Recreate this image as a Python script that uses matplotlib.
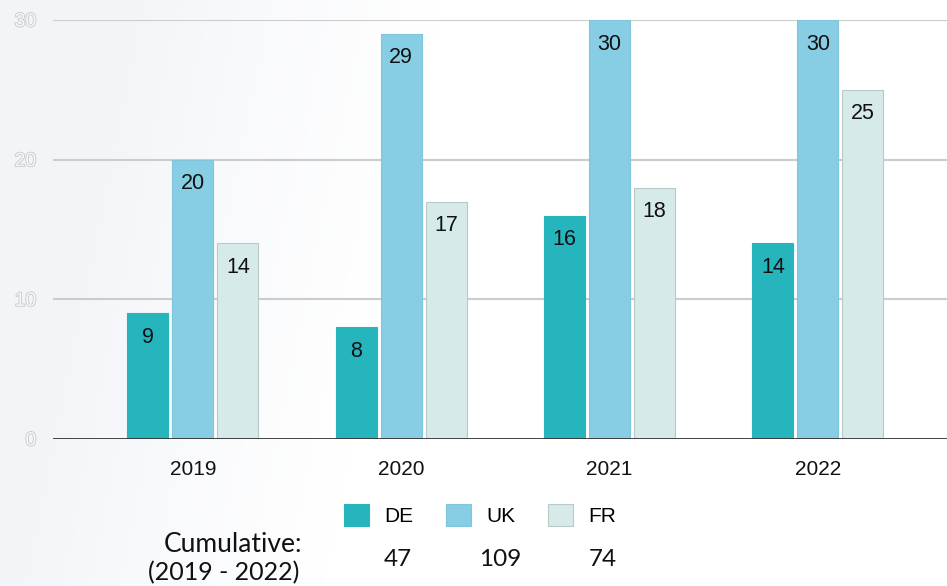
import matplotlib
matplotlib.use("Agg")
import matplotlib.pyplot as plt
import matplotlib.patheffects as pe
import numpy as np

years = ["2019", "2020", "2021", "2022"]
series = ["DE", "UK", "FR"]
de = [9, 8, 16, 14]
uk = [20, 29, 30, 30]
fr = [14, 17, 18, 25]
yticks = [0, 10, 20, 30]

colors = ["#26b5bd", "#87cee4", "#d6ebe9"]
edges = ["#26b5bd", "#7fc6dc", "#b9c9c8"]

W, H = 947, 586
fig = plt.figure(figsize=(W / 100, H / 100), dpi=100)

# soft background gradient at the left
bg = fig.add_axes([0, 0, 1, 1], zorder=-10)
xx = np.linspace(0, 1, 400)
yy = np.linspace(0, 1, 250)
X, Y = np.meshgrid(xx, yy)
g = np.clip((X * W - 20 - (1 - Y) * 120) / 300, 0, 1) ** 0.8
c0 = np.array([0.952, 0.960, 0.976])
img = c0[None, None, :] * (1 - g[..., None]) + np.ones(3)[None, None, :] * g[..., None]
bg.imshow(img, aspect="auto", extent=[0, 1, 0, 1], origin="upper")
bg.axis("off")

ax = fig.add_axes([53 / W, 1 - 439 / H, 1 - 53 / W, (439 - 20) / H])
ax.patch.set_alpha(0)

x = np.arange(len(years))
bw = 0.197
off = 0.216
data = [de, uk, fr]
handles = []
for i, (vals, c, ec) in enumerate(zip(data, colors, edges)):
    bars = ax.bar(x + (i - 1) * off, vals, bw, color=c, edgecolor=ec,
                  linewidth=0.8, zorder=3, label=series[i])
    handles.append(bars)
    for b, v in zip(bars, vals):
        ax.text(b.get_x() + b.get_width() / 2, v - 1.72, str(v),
                ha="center", va="center", fontsize=15.5,
                family="Liberation Sans", color="#111111", zorder=4)

ax.set_ylim(0, 30)
ax.set_xlim(-0.672, 3.62)
ax.set_yticks(yticks)
ax.set_yticklabels([str(t) for t in yticks])
for lab in ax.get_yticklabels():
    lab.set_color("#f7f8fa")
    lab.set_fontsize(14)
    lab.set_family("Liberation Sans")
    lab.set_path_effects([pe.withStroke(linewidth=1.2, foreground="#c8c8c8")])
ax.tick_params(axis="y", length=0, pad=12)
ax.set_xticks(x)
ax.set_xticklabels(years, fontsize=15, family="Liberation Sans", color="#111111")
ax.tick_params(axis="x", length=0, pad=15)

for t in yticks[1:]:
    ax.axhline(t, color="#cccccc", linewidth=1.5, zorder=1)
ax.axhline(0, color="#333333", linewidth=2, zorder=5)
for s in ax.spines.values():
    s.set_visible(False)

leg = fig.legend(handles=handles, labels=series, loc="center",
                 bbox_to_anchor=(480 / W, 1 - 515 / H), ncol=3, frameon=False,
                 prop={"family": "Liberation Sans", "size": 15},
                 handlelength=1.2, handleheight=1.2, handletextpad=0.75,
                 columnspacing=1.55)

cum_x = [398, 500, 603]
totals = [sum(de), sum(uk), sum(fr)]
for cx, tv in zip(cum_x, totals):
    fig.text(cx / W, 1 - 559 / H, str(tv), ha="center", va="center",
             fontsize=17.5, family="Lato", color="#111111")
fig.text(302 / W, 1 - 545 / H, "Cumulative:", ha="right", va="center",
         fontsize=19, family="Lato", color="#111111")
fig.text(299 / W, 1 - 573 / H, "(2019 - 2022)", ha="right", va="center",
         fontsize=18, family="Lato", color="#111111")

fig.savefig("out.png", dpi=100)
